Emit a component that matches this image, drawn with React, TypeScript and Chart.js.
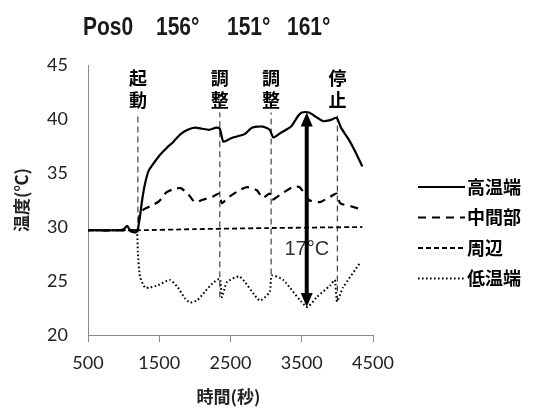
import React, { useEffect, useRef } from 'react';
import { Chart, registerables } from 'chart.js';

Chart.register(...registerables);

// ---- data ----
const seriesLabels = ['高温端', '中間部', '周辺', '低温端'];

const highT = [500, 900, 1000, 1050, 1100, 1170, 1200, 1230, 1260, 1300, 1350, 1400, 1500, 1600, 1700, 1800, 1900, 2000, 2100, 2200, 2300, 2350, 2400, 2500, 2600, 2700, 2800, 2950, 3050, 3100, 3200, 3350, 3450, 3500, 3600, 3700, 3800, 3900, 3990, 4050, 4150, 4250, 4350];
const highV = [29.7, 29.7, 29.8, 30.1, 29.6, 29.5, 29.8, 31.0, 32.5, 34.0, 35.2, 35.7, 36.6, 37.3, 37.9, 38.6, 39.0, 39.2, 39.1, 39.0, 39.2, 39.1, 37.9, 38.2, 38.4, 38.6, 39.2, 39.3, 39.0, 38.3, 38.7, 39.3, 40.3, 40.6, 40.6, 40.2, 39.8, 39.9, 40.1, 39.2, 38.2, 37.0, 35.6];

const midT = [500, 1150, 1200, 1230, 1300, 1400, 1500, 1600, 1700, 1800, 1900, 2000, 2100, 2250, 2340, 2380, 2460, 2600, 2730, 2870, 2950, 3050, 3080, 3200, 3370, 3470, 3600, 3750, 3900, 3990, 4040, 4200, 4350];
const midV = [29.7, 29.7, 29.8, 31.3, 31.7, 32.0, 32.4, 33.2, 33.5, 33.6, 33.1, 32.3, 32.5, 32.8, 33.1, 32.2, 32.7, 33.3, 33.7, 33.4, 32.7, 33.1, 32.5, 33.0, 33.7, 33.7, 32.5, 32.3, 32.8, 33.1, 32.2, 31.9, 31.6];

const surT = [500, 1200, 2000, 3000, 4350];
const surV = [29.7, 29.7, 29.8, 29.9, 30.0];

const lowT = [500, 1150, 1188, 1200, 1230, 1300, 1370, 1480, 1650, 1760, 1860, 1930, 2030, 2140, 2250, 2350, 2380, 2450, 2630, 2910, 3050, 3080, 3240, 3570, 3710, 3900, 3965, 3995, 4080, 4320];
const lowV = [29.7, 29.7, 29.5, 27.6, 25.4, 24.4, 24.4, 24.6, 25.1, 24.4, 23.4, 23.0, 23.2, 24.0, 24.8, 25.2, 23.5, 24.9, 25.4, 23.2, 24.0, 25.5, 25.1, 22.6, 23.5, 24.6, 25.1, 23.1, 24.4, 26.7];

const eventTimes = [1200, 2350, 3070, 4000];
const eventLabels = ['起動', '調整', '調整', '停止'];
const eventBottoms = [29.5, 23.5, 25.6, 23.1];
const eventTop = 40.6;

const arrowTime = 3570;
const arrowTop = 40.6;
const arrowBottom = 22.6;
const arrowLabel = '17°C';
const arrowLabelAt = 27.9;

const titleTokens = ['Pos0', '156°', '151°', '161°'];

const xTicks = [500, 1500, 2500, 3500, 4500];
const yTicks = [20, 25, 30, 35, 40, 45];
const xTitle = '時間(秒)';
const yTitle = '温度(℃)';

// ---- styles ----
const seriesStyles = [
  { dash: [] as number[], width: 2.2 },
  { dash: [8, 6], width: 2.2 },
  { dash: [5, 3], width: 1.8 },
  { dash: [1.6, 2.4], width: 2 },
];

const jp = '"Noto Sans CJK JP", sans-serif';

const pts = (t: number[], v: number[]) => t.map((tt, i) => ({ x: tt, y: v[i] }));

const overlay = {
  id: 'overlay',
  afterDatasetsDraw(chart: any) {
    const { ctx, scales, chartArea } = chart;
    const x = scales.x, y = scales.y;
    ctx.save();

    // event labels
    ctx.fillStyle = '#000';
    ctx.textAlign = 'center';
    ctx.textBaseline = 'middle';
    ctx.font = `bold 18px ${jp}`;
    const topPx = y.getPixelForValue(eventTop);
    eventTimes.forEach((t, i) => {
      const px = x.getPixelForValue(t);
      const chars = Array.from(eventLabels[i]);
      ctx.fillText(chars[0], px, topPx - 34);
      ctx.fillText(chars[1], px, topPx - 12);
    });

    // arrow label
    const ax = x.getPixelForValue(arrowTime);
    ctx.font = '20px "Liberation Sans", sans-serif';
    ctx.fillStyle = '#333';
    ctx.fillText(arrowLabel, ax, y.getPixelForValue(arrowLabelAt));

    // arrow
    const y1 = y.getPixelForValue(arrowTop);
    const y2 = y.getPixelForValue(arrowBottom);
    ctx.strokeStyle = '#000';
    ctx.fillStyle = '#000';
    ctx.lineWidth = 4;
    ctx.setLineDash([]);
    ctx.beginPath();
    ctx.moveTo(ax, y1 + 12);
    ctx.lineTo(ax, y2 - 12);
    ctx.stroke();
    ctx.beginPath();
    ctx.moveTo(ax, y1);
    ctx.lineTo(ax - 6, y1 + 14);
    ctx.lineTo(ax + 6, y1 + 14);
    ctx.closePath();
    ctx.fill();
    ctx.beginPath();
    ctx.moveTo(ax, y2);
    ctx.lineTo(ax - 6, y2 - 14);
    ctx.lineTo(ax + 6, y2 - 14);
    ctx.closePath();
    ctx.fill();

    // title tokens (condensed by horizontal scaling)
    ctx.textAlign = 'left';
    ctx.fillStyle = '#1a1a1a';
    ctx.font = 'bold 25px "Liberation Sans", sans-serif';
    const titleX = [83, 156, 227, 287];
    titleTokens.forEach((tk, i) => {
      ctx.save();
      ctx.translate(titleX[i], 28);
      ctx.scale(0.84, 1);
      ctx.fillText(tk, 0, 0);
      ctx.restore();
    });

    // axis titles
    ctx.fillStyle = '#222';
    ctx.font = `bold 17px ${jp}`;
    ctx.textAlign = 'center';
    ctx.fillText(xTitle, (chartArea.left + chartArea.right) / 2 - 2, 397);
    ctx.save();
    ctx.translate(22, (chartArea.top + chartArea.bottom) / 2);
    ctx.rotate(-Math.PI / 2);
    ctx.fillText(yTitle, 0, 0);
    ctx.restore();

    // legend
    const lx0 = chartArea.right + 45;
    const lx1 = lx0 + 47;
    ctx.textAlign = 'left';
    ctx.font = `bold 18px ${jp}`;
    seriesLabels.forEach((lab, i) => {
      const ly = 187 + i * 30.5;
      const st = seriesStyles[i];
      ctx.strokeStyle = '#000';
      ctx.lineWidth = st.width;
      ctx.setLineDash(st.dash);
      ctx.beginPath();
      ctx.moveTo(lx0, ly);
      ctx.lineTo(lx1, ly);
      ctx.stroke();
      ctx.setLineDash([]);
      ctx.fillStyle = '#000';
      ctx.fillText(lab, lx1 + 2, ly);
    });

    ctx.restore();
  },
};

export default function App() {
  const ref = useRef<HTMLCanvasElement | null>(null);
  useEffect(() => {
    document.body.style.margin = '0';
    const seriesData = [pts(highT, highV), pts(midT, midV), pts(surT, surV), pts(lowT, lowV)];
    const datasets: any[] = seriesData.map((d, i) => ({
      label: seriesLabels[i],
      data: d,
      borderColor: '#000',
      borderWidth: seriesStyles[i].width,
      borderDash: seriesStyles[i].dash,
      pointRadius: 0,
      tension: 0.2,
      fill: false,
    }));
    eventTimes.forEach((t, i) => {
      datasets.push({
        label: 'ev' + i,
        data: [{ x: t, y: eventBottoms[i] }, { x: t, y: eventTop }],
        borderColor: '#444',
        borderWidth: 1.2,
        borderDash: [6, 4],
        pointRadius: 0,
        fill: false,
      });
    });
    const chart = new Chart(ref.current as HTMLCanvasElement, {
      type: 'line',
      data: { datasets },
      options: {
        animation: false,
        responsive: false,
        layout: { padding: { left: 0, top: 65, right: 162, bottom: 0 } },
        plugins: { legend: { display: false }, tooltip: { enabled: false }, title: { display: false } },
        scales: {
          x: {
            type: 'linear',
            min: 500,
            max: 4500,
            afterBuildTicks: (s: any) => { s.ticks = xTicks.map((v) => ({ value: v })); },
            afterFit: (s: any) => { s.height = 73; },
            grid: { drawOnChartArea: false, drawTicks: true, tickLength: 7, color: '#8a8a8a' },
            border: { color: '#8a8a8a', width: 1 },
            ticks: { padding: 10, color: '#222', font: { family: 'Lato', size: 18 }, maxRotation: 0, callback: (v: any) => String(v) },
          },
          y: {
            min: 20,
            max: 45,
            afterBuildTicks: (s: any) => { s.ticks = yTicks.map((v) => ({ value: v })); },
            afterFit: (s: any) => { s.width = 88; },
            grid: { display: false, drawTicks: false },
            border: { color: '#8a8a8a', width: 1 },
            ticks: { padding: 20, color: '#222', font: { family: 'Lato', size: 18 }, callback: (v: any) => String(v) },
          },
        },
      },
      plugins: [overlay],
    });
    return () => chart.destroy();
  }, []);
  return (
    <div style={{ width: 535, height: 408 }}>
      <canvas ref={ref} width={535} height={408} />
    </div>
  );
}
